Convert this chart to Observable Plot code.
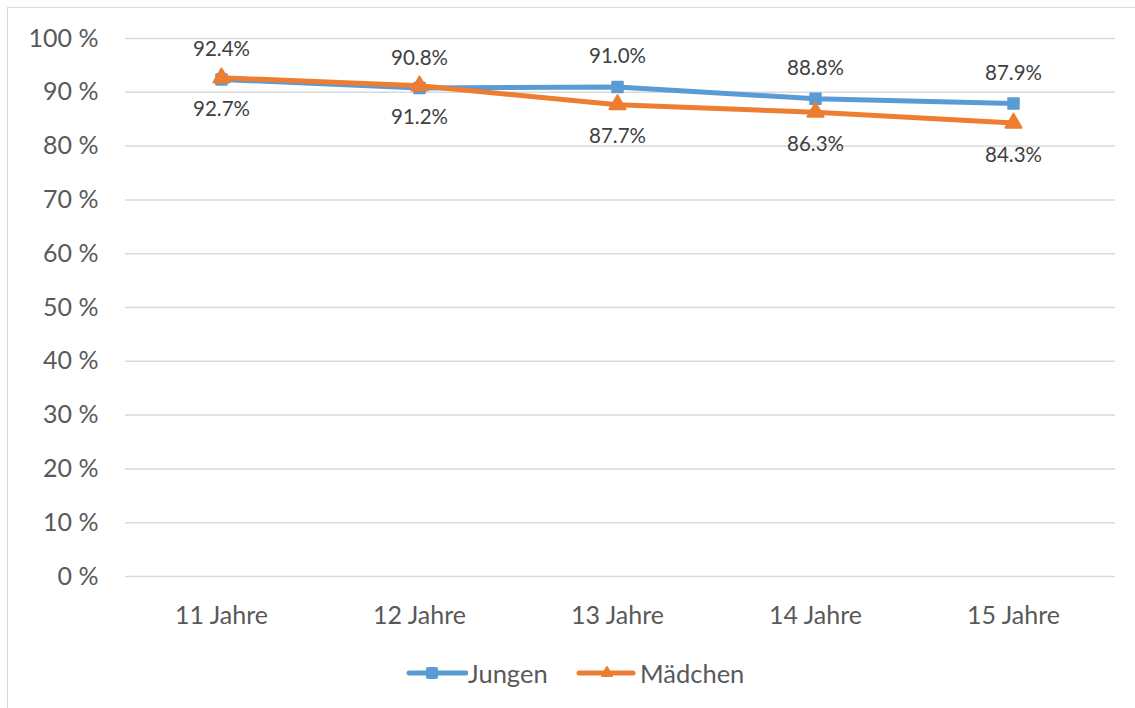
<!DOCTYPE html>
<html>
<head>
<meta charset="utf-8">
<script src="https://cdn.jsdelivr.net/npm/d3@7"></script>
<script src="https://cdn.jsdelivr.net/npm/@observablehq/plot@0.6"></script>
<style>
  html, body { margin: 0; padding: 0; background: #fff; }
  body { width: 1135px; height: 708px; position: relative; overflow: hidden; font-family: Lato, "Open Sans", sans-serif; }
  #frame { position: absolute; left: 7px; top: 7px; width: 1200px; height: 720px; border-left: 1.5px solid #d9d9d9; border-top: 1.5px solid #d9d9d9; }
  #chart { position: absolute; left: 0; top: 0; }
  #legend { position: absolute; left: 0; top: 655px; width: 1135px; height: 36px; }
  .item { position: absolute; top: 0; display: flex; align-items: center; height: 36px; font-size: 25.5px; color: #595959; }
</style>
</head>
<body>
<div id="frame"></div>
<div id="chart"></div>
<div id="legend">
  <div class="item" style="left:406px"><svg width="62" height="20"><line x1="3" y1="10" x2="60" y2="10" stroke="#5B9BD5" stroke-width="5" stroke-linecap="round"/><rect x="20" y="4" width="12" height="12" rx="2" fill="#5B9BD5"/></svg><span>Jungen</span></div>
  <div class="item" style="left:576px"><svg width="62" height="20"><line x1="3" y1="10" x2="57" y2="10" stroke="#ED7D31" stroke-width="5" stroke-linecap="round"/><path d="M31,4 L36,13 L26,13 Z" fill="#ED7D31" stroke="#ED7D31" stroke-width="2" stroke-linejoin="round"/></svg><span style="margin-left:2px">Mädchen</span></div>
</div>
<script>
const categories = ["11 Jahre", "12 Jahre", "13 Jahre", "14 Jahre", "15 Jahre"];
const jungen = [92.4, 90.8, 91.0, 88.8, 87.9];
const maedchen = [92.7, 91.2, 87.7, 86.3, 84.3];
const yTicks = [0, 10, 20, 30, 40, 50, 60, 70, 80, 90, 100];

const jData = categories.map((c, i) => ({cat: c, v: jungen[i]}));
const mData = categories.map((c, i) => ({cat: c, v: maedchen[i]}));
const fmt = v => v.toFixed(1) + "%";

const chart = Plot.plot({
  width: 1135,
  height: 640,
  marginLeft: 125,
  marginRight: 20,
  marginTop: 38,
  marginBottom: 64,
  style: {fontFamily: "Lato, 'Open Sans', sans-serif", color: "#595959", background: "transparent"},
  x: {type: "point", domain: categories, range: [220, 1013], padding: 0, label: null},
  y: {domain: [0, 100], label: null},
  marks: [
    Plot.ruleY(yTicks, {y: d => d, stroke: "#d9d9d9", strokeWidth: 1.5, strokeOpacity: 1}),
    Plot.axisY({ticks: yTicks, tickSize: 0, tickPadding: 27, tickFormat: d => d + " %", fontSize: 25, label: null, fill: "#595959"}),
    Plot.axisX({tickSize: 0, tickPadding: 30, fontSize: 25, label: null, fill: "#595959"}),
    Plot.line(jData, {x: "cat", y: "v", stroke: "#5B9BD5", strokeWidth: 5, strokeLinejoin: "round", strokeLinecap: "round"}),
    Plot.dot(jData, {x: "cat", y: "v", symbol: "square", r: 6.2, fill: "#5B9BD5", stroke: "#5B9BD5", strokeWidth: 1.5, strokeLinejoin: "round"}),
    Plot.line(mData, {x: "cat", y: "v", stroke: "#ED7D31", strokeWidth: 5, strokeLinejoin: "round", strokeLinecap: "round"}),
    Plot.dot(mData, {x: "cat", y: "v", symbol: "triangle", r: 6, fill: "#ED7D31", stroke: "#ED7D31", strokeWidth: 2, strokeLinejoin: "round"}),
    Plot.text(jData, {x: "cat", y: "v", text: d => fmt(d.v), dy: -30, fontSize: 20.5, fill: "#404040"}),
    Plot.text(mData, {x: "cat", y: "v", text: d => fmt(d.v), dy: 32, fontSize: 20.5, fill: "#404040"})
  ]
});
document.getElementById("chart").appendChild(chart);
</script>
</body>
</html>
